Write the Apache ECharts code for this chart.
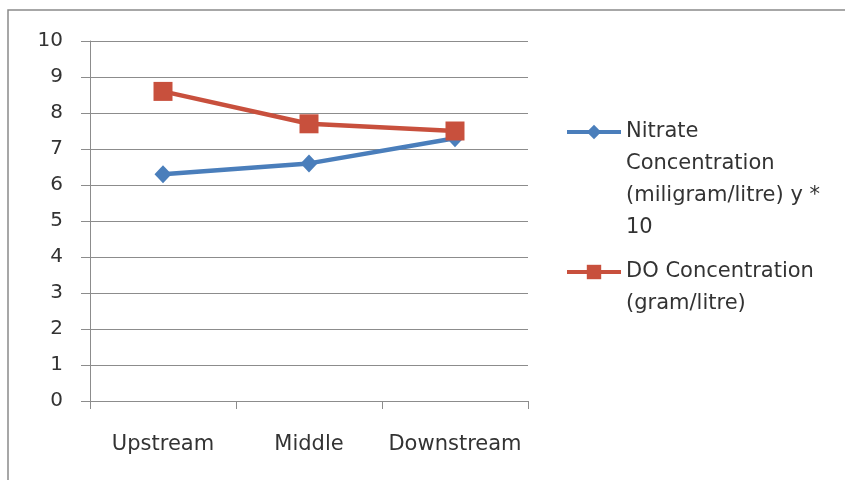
<!DOCTYPE html>
<html>
<head>
<meta charset="utf-8">
<script src="https://cdn.jsdelivr.net/npm/echarts@6/dist/echarts.min.js"></script>
<style>
  html, body { margin: 0; padding: 0; background: #fff; }
  #chart { width: 845px; height: 480px; }
</style>
</head>
<body>
<div id="chart"></div>
<script>
// data
var categories = ['Upstream', 'Middle', 'Downstream'];
var nitrateName = 'Nitrate Concentration (miligram/litre) y * 10';
var doName = 'DO Concentration (gram/litre)';
var nitrateValues = [6.3, 6.6, 7.3];
var doValues = [8.6, 7.7, 7.5];

var blue = '#4A7EBB';
var red = '#C8503D';
var txt = '#333333';
var gridGray = '#8C8C8C';
var font = 'DejaVu Sans';

var myChart = echarts.init(document.getElementById('chart'));

// legend labels wrapped like the original; blank lines on top keep
// the icon level with the first line (icon is centred on the block)
var legendText = {};
legendText[nitrateName] = '\n\n\nNitrate\nConcentration\n(miligram/litre) y *\n10';
legendText[doName] = '\nDO Concentration\n(gram/litre)';

function legendFor(name, top) {
    return {
        left: 560,
        top: top,
        orient: 'vertical',
        itemWidth: 54,
        itemHeight: 18,
        selectedMode: false,
        data: [name],
        formatter: function (n) { return legendText[n]; },
        lineStyle: { width: 4 },
        textStyle: {
            fontFamily: font,
            fontSize: 21,
            color: txt,
            lineHeight: 32
        }
    };
}

var option = {
    animation: false,
    backgroundColor: '#fff',
    graphic: [{
        type: 'rect',
        shape: { x: 8, y: 10, width: 900, height: 500 },
        style: { fill: 'none', stroke: '#8a8a8a', lineWidth: 1.5 },
        z: -1
    }],
    legend: [
        legendFor(nitrateName, 15),
        legendFor(doName, 219)
    ],
    grid: {
        left: 90,
        right: 317,
        top: 41,
        bottom: 79
    },
    xAxis: {
        type: 'category',
        data: categories,
        boundaryGap: true,
        axisLine: { lineStyle: { color: gridGray, width: 1 } },
        axisTick: { show: true, interval: 0, length: 8, lineStyle: { color: gridGray } },
        axisLabel: {
            interval: 0,
            margin: 33,
            fontFamily: font,
            fontSize: 21,
            color: txt
        }
    },
    yAxis: {
        type: 'value',
        min: 0,
        max: 10,
        interval: 1,
        axisLine: { show: true, lineStyle: { color: gridGray, width: 1 } },
        axisTick: { show: true, length: 9, lineStyle: { color: gridGray } },
        splitLine: { show: true, lineStyle: { color: gridGray, width: 1 } },
        axisLabel: {
            margin: 27,
            fontFamily: font,
            fontSize: 20,
            color: txt
        }
    },
    series: [
        {
            name: nitrateName,
            type: 'line',
            data: nitrateValues,
            symbol: 'diamond',
            symbolSize: [17, 18],
            lineStyle: { color: blue, width: 4.5 },
            itemStyle: { color: blue },
            z: 2
        },
        {
            name: doName,
            type: 'line',
            data: doValues,
            symbol: 'rect',
            symbolSize: 19,
            lineStyle: { color: red, width: 4.5 },
            itemStyle: { color: red },
            z: 3
        }
    ]
};

myChart.setOption(option);
</script>
</body>
</html>
